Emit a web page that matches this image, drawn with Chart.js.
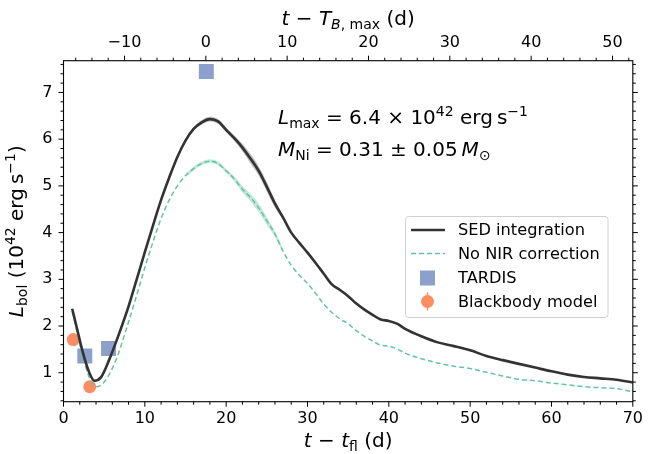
<!DOCTYPE html>
<html>
<head>
<meta charset="utf-8">
<script src="https://cdn.jsdelivr.net/npm/chart.js@4.4.1/dist/chart.umd.min.js"></script>
<style>
  html, body { margin: 0; padding: 0; background: #fff; }
  #box { width: 651px; height: 454px; }
</style>
</head>
<body>
<div id="box"><canvas id="graf" width="651" height="454"></canvas></div>
<script>
// SED integration (black)
const sedT = [1.07, 1.6, 2.4, 3.2, 3.8, 4.6, 5.6, 6.8, 8.0, 9.0, 10, 11, 12, 13, 14, 15, 16, 17, 18, 19, 20, 21, 22, 23, 24, 25, 26, 27, 28, 29, 30, 31, 32, 33, 34, 35, 36, 37, 38, 39, 40, 41, 42, 44, 46, 48, 50, 52, 54, 56, 58, 60, 62, 64, 66, 68, 70]
const sedL = [2.37, 1.99, 1.42, 0.99, 0.83, 0.90, 1.27, 1.82, 2.42, 3.00, 3.58, 4.15, 4.70, 5.18, 5.62, 5.97, 6.22, 6.36, 6.43, 6.38, 6.20, 6.02, 5.82, 5.58, 5.32, 4.98, 4.62, 4.32, 4.00, 3.78, 3.57, 3.35, 3.12, 2.89, 2.77, 2.64, 2.48, 2.35, 2.24, 2.14, 2.11, 2.05, 1.94, 1.78, 1.65, 1.57, 1.48, 1.36, 1.27, 1.19, 1.11, 1.03, 0.96, 0.91, 0.88, 0.85, 0.79]

// No NIR correction (green dashed)
const nirT = [1.07, 1.8, 2.6, 3.4, 4.0, 5.0, 6.4, 7.7, 8.9, 10, 11, 12, 13, 14, 15, 16, 17, 18, 19, 20, 21, 22, 23, 24, 25, 26, 27, 28, 29, 30, 31, 32, 33, 34, 35, 36, 37, 38, 39, 40, 41, 42, 44, 46, 48, 50, 52, 54, 56, 58, 60, 62, 64, 66, 68, 70]
const nirL = [2.31, 1.77, 1.20, 0.81, 0.70, 0.80, 1.25, 1.92, 2.60, 3.25, 3.80, 4.30, 4.70, 5.00, 5.22, 5.37, 5.48, 5.53, 5.48, 5.32, 5.15, 4.93, 4.75, 4.53, 4.25, 3.97, 3.60, 3.30, 3.09, 2.91, 2.70, 2.47, 2.29, 2.15, 2.05, 1.90, 1.78, 1.68, 1.59, 1.57, 1.51, 1.42, 1.30, 1.21, 1.14, 1.09, 1.01, 0.93, 0.86, 0.83, 0.78, 0.74, 0.70, 0.68, 0.66, 0.59]

// uncertainty bands
const bandT = [15, 16, 17, 18, 19, 20, 21, 22, 23, 24, 25, 26, 27]
const sedHi = [6.00, 6.26, 6.41, 6.48, 6.43, 6.25, 6.08, 5.90, 5.68, 5.42, 5.08, 4.70, 4.36]
const sedLo = [5.94, 6.18, 6.31, 6.38, 6.33, 6.15, 5.96, 5.74, 5.48, 5.22, 4.88, 4.54, 4.28]
const nirHi = [5.25, 5.41, 5.52, 5.57, 5.52, 5.36, 5.20, 5.00, 4.83, 4.62, 4.33, 4.03, 3.64]
const nirLo = [5.19, 5.33, 5.44, 5.49, 5.44, 5.28, 5.10, 4.86, 4.67, 4.44, 4.17, 3.91, 3.56]

// TARDIS e modelo de corpo negro
const tardisT = [2.62, 5.54, 17.56]
const tardisL = [1.36, 1.52, 7.45]
const bbT = [1.2, 3.23]
const bbL = [1.71, 0.70]

// eixos
const tOffset = 17.5
const xTicks = [0, 10, 20, 30, 40, 50, 60, 70]
const topTicks = [-10, 0, 10, 20, 30, 40, 50]
const yTicks = [1, 2, 3, 4, 5, 6, 7]

const FONT = '"DejaVu Sans"'

function pares(xs, ys) {
    return xs.map((x, i) => ({x: x, y: ys[i]}))
}

function menos(v) {
    return v < 0 ? '\u2212' + Math.abs(v) : String(v)
}

// texto com sub/sobrescrito
function mathText(ctx, parts, x, y, size, align) {
    const items = parts.map(p => {
        const small = p[2] ? 0.7 : 1
        const font = (p[1] === 'i' ? 'italic ' : '') + (size * small).toFixed(1) + 'px ' + FONT
        ctx.font = font
        let dy = 0
        if (p[2] === 'sub') dy = size * 0.22
        if (p[2] === 'sup') dy = -size * 0.42
        return {t: p[0], font: font, w: ctx.measureText(p[0]).width, dy: dy}
    })
    const total = items.reduce((s, it) => s + it.w, 0)
    let cx = align === 'center' ? x - total / 2 : x
    ctx.textAlign = 'left'
    ctx.textBaseline = 'alphabetic'
    ctx.fillStyle = '#000'
    for (const it of items) {
        ctx.font = it.font
        ctx.fillText(it.t, cx, y + it.dy)
        cx += it.w
    }
}

const extras = {
    id: 'extras',
    afterDraw(chart) {
        const ctx = chart.ctx
        const a = chart.chartArea
        const sx = chart.scales.x, sy = chart.scales.y
        ctx.save()

        // moldura
        ctx.strokeStyle = '#000'
        ctx.lineWidth = 1.1
        ctx.strokeRect(a.left, a.top, a.right - a.left, a.bottom - a.top)

        // ticks
        ctx.lineWidth = 1
        ctx.beginPath()
        for (let v = 0; v <= 70; v += 2) {
            const px = sx.getPixelForValue(v)
            const len = v % 10 === 0 ? 5 : 3
            ctx.moveTo(px, a.bottom); ctx.lineTo(px, a.bottom + len)
        }
        for (let v = -16; v <= 52; v += 2) {
            const px = sx.getPixelForValue(v + tOffset)
            const len = v % 10 === 0 ? 5 : 3
            ctx.moveTo(px, a.top); ctx.lineTo(px, a.top - len)
        }
        for (let k = 2; k <= 38; k++) {
            const v = k / 5
            const py = sy.getPixelForValue(v)
            const len = k % 5 === 0 ? 5 : 3
            ctx.moveTo(a.left, py); ctx.lineTo(a.left - len, py)
            ctx.moveTo(a.right, py); ctx.lineTo(a.right + len, py)
        }
        ctx.stroke()

        // titulos dos eixos
        const cxm = (a.left + a.right) / 2
        mathText(ctx, [['t', 'i'], [' \u2212 ', 'n'], ['t', 'i'], ['fl', 'n', 'sub'], [' (d)', 'n']], cxm, 447, 20, 'center')
        mathText(ctx, [['t', 'i'], [' \u2212 ', 'n'], ['T', 'i'], ['B', 'i', 'sub'], [', max', 'n', 'sub'], [' (d)', 'n']], cxm, 25, 20, 'center')
        ctx.save()
        ctx.translate(23, (a.top + a.bottom) / 2)
        ctx.rotate(-Math.PI / 2)
        mathText(ctx, [['L', 'i'], ['bol', 'n', 'sub'], [' (10', 'n'], ['42', 'n', 'sup'], [' erg\u2009s', 'n'], ['\u22121', 'n', 'sup'], [')', 'n']], 0, 0, 20, 'center')
        ctx.restore()

        // anotacao
        mathText(ctx, [['L', 'i'], ['max', 'n', 'sub'], [' = 6.4 \u00d7 10', 'n'], ['42', 'n', 'sup'], [' erg\u2009s', 'n'], ['\u22121', 'n', 'sup']], 278, 124, 20, 'left')
        mathText(ctx, [['M', 'i'], ['Ni', 'n', 'sub'], [' = 0.31 \u00b1 0.05\u2009', 'n'], ['M', 'i'], ['\u2299', 'n', 'sub']], 278, 156, 20, 'left')

        // legenda
        const lx = 405.5, ly = 216.5, lw = 202.5, lh = 101
        ctx.beginPath()
        ctx.roundRect(lx, ly, lw, lh, 3)
        ctx.fillStyle = 'rgba(255,255,255,0.8)'
        ctx.fill()
        ctx.strokeStyle = '#d0d0d0'
        ctx.lineWidth = 1
        ctx.stroke()

        const rows = [230, 253.5, 278, 301.5]
        const tx = 458
        ctx.lineWidth = 2.5
        ctx.strokeStyle = '#333333'
        ctx.beginPath(); ctx.moveTo(411, rows[0]); ctx.lineTo(445, rows[0]); ctx.stroke()
        ctx.lineWidth = 1.5
        ctx.strokeStyle = '#66c2a5'
        ctx.setLineDash([5, 3])
        ctx.beginPath(); ctx.moveTo(411, rows[1]); ctx.lineTo(445, rows[1]); ctx.stroke()
        ctx.setLineDash([])
        ctx.fillStyle = '#8da0cb'
        ctx.fillRect(427.5 - 7.5, rows[2] - 7.5, 15, 15)
        ctx.strokeStyle = '#fc8d62'
        ctx.lineWidth = 1.5
        ctx.beginPath(); ctx.moveTo(427.5, rows[3] - 9); ctx.lineTo(427.5, rows[3] + 9); ctx.stroke()
        ctx.fillStyle = '#fc8d62'
        ctx.beginPath(); ctx.arc(427.5, rows[3], 6.5, 0, Math.PI * 2); ctx.fill()

        ctx.fillStyle = '#000'
        ctx.font = '16.2px ' + FONT
        ctx.textAlign = 'left'
        ctx.textBaseline = 'middle'
        const nomes = ['SED integration', 'No NIR correction', 'TARDIS', 'Blackbody model']
        nomes.forEach((n, i) => ctx.fillText(n, tx, rows[i] + 1))

        ctx.restore()
    }
}

function criarGraf() {
    const ctx = document.getElementById('graf').getContext('2d')
    const tickFont = {family: 'DejaVu Sans', size: 16}

    new Chart(ctx, {
        type: 'scatter',
        data: {
            datasets: [
                {
                    label: 'SED integration',
                    data: pares(sedT, sedL),
                    showLine: true,
                    borderColor: '#333333',
                    borderWidth: 2.6,
                    pointRadius: 0,
                    cubicInterpolationMode: 'monotone'
                },
                {
                    label: 'No NIR correction',
                    data: pares(nirT, nirL),
                    showLine: true,
                    borderColor: '#66c2a5',
                    borderWidth: 1.5,
                    borderDash: [5, 3],
                    pointRadius: 0,
                    cubicInterpolationMode: 'monotone'
                },
                {
                    label: 'TARDIS',
                    data: pares(tardisT, tardisL),
                    pointStyle: 'rect',
                    pointRadius: 10.6,
                    backgroundColor: '#8da0cb',
                    borderWidth: 0
                },
                {
                    label: 'Blackbody model',
                    data: pares(bbT, bbL),
                    pointStyle: 'circle',
                    pointRadius: 6.5,
                    backgroundColor: '#fc8d62',
                    borderWidth: 0
                },
                {
                    data: pares(bandT, sedHi),
                    showLine: true,
                    borderWidth: 0,
                    pointRadius: 0,
                    fill: '+1',
                    backgroundColor: 'rgba(90,90,90,0.4)',
                    cubicInterpolationMode: 'monotone'
                },
                {
                    data: pares(bandT, sedLo),
                    showLine: true,
                    borderWidth: 0,
                    pointRadius: 0,
                    cubicInterpolationMode: 'monotone'
                },
                {
                    data: pares(bandT, nirHi),
                    showLine: true,
                    borderWidth: 0,
                    pointRadius: 0,
                    fill: '+1',
                    backgroundColor: 'rgba(102,194,165,0.4)',
                    cubicInterpolationMode: 'monotone'
                },
                {
                    data: pares(bandT, nirLo),
                    showLine: true,
                    borderWidth: 0,
                    pointRadius: 0,
                    cubicInterpolationMode: 'monotone'
                }
            ]
        },
        options: {
            responsive: false,
            animation: false,
            layout: {padding: {left: 0, right: 12.7, top: 0, bottom: 0}},
            plugins: {
                legend: {display: false},
                tooltip: {enabled: false}
            },
            scales: {
                x: {
                    type: 'linear',
                    position: 'bottom',
                    min: 0,
                    max: 70,
                    afterBuildTicks: s => { s.ticks = xTicks.map(v => ({value: v})) },
                    ticks: {font: tickFont, color: '#000', padding: 8, maxRotation: 0},
                    grid: {display: false, drawTicks: false},
                    border: {display: false},
                    afterFit: s => { s.height = 52.3 }
                },
                x2: {
                    type: 'linear',
                    position: 'top',
                    min: -tOffset,
                    max: 70 - tOffset,
                    afterBuildTicks: s => { s.ticks = topTicks.map(v => ({value: v})) },
                    ticks: {font: tickFont, color: '#000', padding: 8, maxRotation: 0, callback: v => menos(v)},
                    grid: {display: false, drawTicks: false},
                    border: {display: false},
                    afterFit: s => { s.height = 60.7 }
                },
                y: {
                    min: 0.38,
                    max: 7.68,
                    afterBuildTicks: s => { s.ticks = yTicks.map(v => ({value: v})) },
                    ticks: {font: tickFont, color: '#000', padding: 11},
                    grid: {display: false, drawTicks: false},
                    border: {display: false},
                    afterFit: s => { s.width = 63.5 }
                }
            }
        },
        plugins: [extras]
    })
}

criarGraf()
</script>
</body>
</html>
